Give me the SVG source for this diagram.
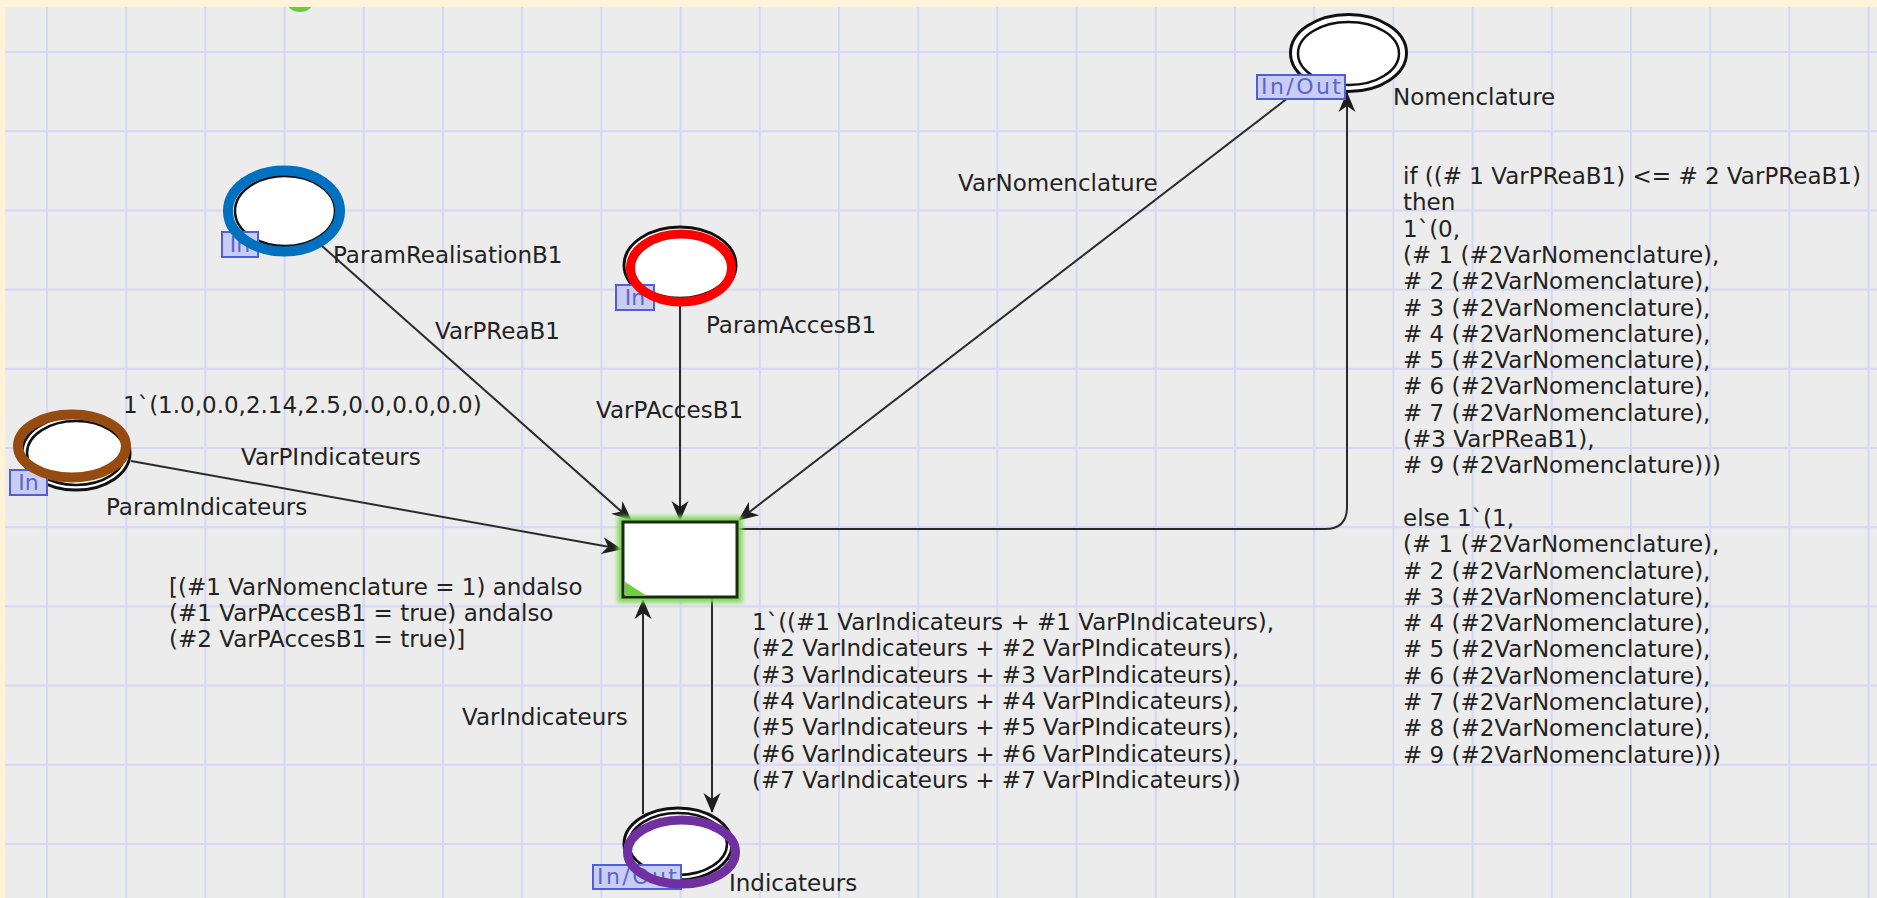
<svg xmlns="http://www.w3.org/2000/svg" width="1877" height="898" viewBox="0 0 1877 898">
  <style>
    .lbl { font-family: "DejaVu Sans", "Liberation Sans", sans-serif; font-size: 23px; fill: #222; }
    .arc { fill: none; stroke: #2b2b2b; stroke-width: 2; marker-end: url(#arr); }
    .pl-out { fill: #fff; stroke: #111; stroke-width: 3; }
    .pl-in { fill: #fff; stroke: #111; stroke-width: 2.5; }
    .tag { fill: #C9CDF3; stroke: #4F5FD9; stroke-width: 2; }
    .tagtxt { font-family: "DejaVu Sans", "Liberation Sans", sans-serif; font-size: 22px; fill: #5A66CC; text-anchor: middle; }
    .ring { fill: none; }
  </style>
  <defs>
    <pattern id="grid" x="46" y="51" width="79.2" height="79.2" patternUnits="userSpaceOnUse">
      <path d="M1,0 V79.2 M0,1 H79.2" stroke="#D6D6F7" stroke-width="2"/>
    </pattern>
    <marker id="arr" viewBox="-21 -10 23 20" refX="0" refY="0" markerWidth="23" markerHeight="20" markerUnits="userSpaceOnUse" orient="auto">
      <path d="M1,0 L-19,-8.5 L-13,0 L-19,8.5 Z" fill="#1e1e1e"/>
    </marker>
    <filter id="glow" x="-20%" y="-20%" width="140%" height="140%">
      <feGaussianBlur stdDeviation="2.2"/>
    </filter>
  </defs>

  <!-- canvas and grid -->
  <rect x="0" y="0" width="1877" height="898" fill="#ECECEC"/>
  <rect x="0" y="0" width="1877" height="898" fill="url(#grid)"/>
  <ellipse cx="300" cy="0" rx="14" ry="12" fill="#6DC93F"/>
  <rect x="0" y="0" width="1877" height="7" fill="#FFF4DA"/>
  <rect x="0" y="0" width="5" height="898" fill="#FFF4DA"/>

  <!-- arcs -->
  <g id="connectors">
    <path class="arc" d="M322,246 L631,520"/>
    <path class="arc" d="M680,306 L680,520"/>
    <path class="arc" d="M1306,84 L739,520"/>
    <path class="arc" d="M737,529 H1325 Q1347,529 1347,507 V93"/>
    <path class="arc" d="M131,461 L621,549"/>
    <path class="arc" d="M643,814 V600"/>
    <path class="arc" d="M712,597 V812"/>
    <text class="lbl" x="435" y="339">VarPReaB1</text>
    <text class="lbl" x="596" y="418">VarPAccesB1</text>
    <text class="lbl" x="958" y="191">VarNomenclature</text>
    <text class="lbl" x="241" y="465">VarPIndicateurs</text>
    <text class="lbl" x="462" y="725">VarIndicateurs</text>
    <text class="lbl" x="752">
      <tspan x="752" y="630">1`((#1 VarIndicateurs + #1 VarPIndicateurs),</tspan>
      <tspan x="752" y="656.3">(#2 VarIndicateurs + #2 VarPIndicateurs),</tspan>
      <tspan x="752" y="682.6">(#3 VarIndicateurs + #3 VarPIndicateurs),</tspan>
      <tspan x="752" y="708.9">(#4 VarIndicateurs + #4 VarPIndicateurs),</tspan>
      <tspan x="752" y="735.2">(#5 VarIndicateurs + #5 VarPIndicateurs),</tspan>
      <tspan x="752" y="761.5">(#6 VarIndicateurs + #6 VarPIndicateurs),</tspan>
      <tspan x="752" y="787.8">(#7 VarIndicateurs + #7 VarPIndicateurs))</tspan>
    </text>
    <text class="lbl" x="1403">
      <tspan x="1403" y="184">if ((# 1 VarPReaB1) &lt;= # 2 VarPReaB1)</tspan>
      <tspan x="1403" y="210.3">then</tspan>
      <tspan x="1403" y="236.6">1`(0,</tspan>
      <tspan x="1403" y="262.9">(# 1 (#2VarNomenclature),</tspan>
      <tspan x="1403" y="289.2"># 2 (#2VarNomenclature),</tspan>
      <tspan x="1403" y="315.5"># 3 (#2VarNomenclature),</tspan>
      <tspan x="1403" y="341.8"># 4 (#2VarNomenclature),</tspan>
      <tspan x="1403" y="368.1"># 5 (#2VarNomenclature),</tspan>
      <tspan x="1403" y="394.4"># 6 (#2VarNomenclature),</tspan>
      <tspan x="1403" y="420.7"># 7 (#2VarNomenclature),</tspan>
      <tspan x="1403" y="447">(#3 VarPReaB1),</tspan>
      <tspan x="1403" y="473.3"># 9 (#2VarNomenclature)))</tspan>
      <tspan x="1403" y="525.9">else 1`(1,</tspan>
      <tspan x="1403" y="552.2">(# 1 (#2VarNomenclature),</tspan>
      <tspan x="1403" y="578.5"># 2 (#2VarNomenclature),</tspan>
      <tspan x="1403" y="604.8"># 3 (#2VarNomenclature),</tspan>
      <tspan x="1403" y="631.1"># 4 (#2VarNomenclature),</tspan>
      <tspan x="1403" y="657.4"># 5 (#2VarNomenclature),</tspan>
      <tspan x="1403" y="683.7"># 6 (#2VarNomenclature),</tspan>
      <tspan x="1403" y="710"># 7 (#2VarNomenclature),</tspan>
      <tspan x="1403" y="736.3"># 8 (#2VarNomenclature),</tspan>
      <tspan x="1403" y="762.6"># 9 (#2VarNomenclature)))</tspan>
    </text>
  </g>

  <!-- transition -->
  <g id="transition">
    <rect x="623" y="522" width="114" height="75" fill="none" stroke="#7ED957" stroke-width="11" filter="url(#glow)"/>
    <rect x="623" y="522" width="114" height="75" fill="#fff" stroke="#1d2a14" stroke-width="3"/>
    <path d="M625,582 L625,596 L647,596 Z" fill="#6CD13A"/>
    <text class="lbl" x="169">
      <tspan x="169" y="595">[(#1 VarNomenclature = 1) andalso</tspan>
      <tspan x="169" y="621">(#1 VarPAccesB1 = true) andalso</tspan>
      <tspan x="169" y="647">(#2 VarPAccesB1 = true)]</tspan>
    </text>
  </g>

  <!-- places -->
  <g id="place-ParamRealisationB1">
    <ellipse class="pl-out" cx="285" cy="211" rx="55" ry="40"/>
    <ellipse class="pl-in" cx="285" cy="211" rx="50" ry="35"/>
    <rect class="tag" x="222" y="232" width="36" height="25"/>
    <text class="tagtxt" x="240" y="252">In</text>
    <ellipse class="ring" cx="284" cy="211" rx="56" ry="40.5" stroke="#0070C0" stroke-width="10"/>
    <text class="lbl" x="333" y="263">ParamRealisationB1</text>
  </g>

  <g id="place-ParamAccesB1">
    <ellipse class="pl-out" cx="680" cy="265" rx="56" ry="38"/>
    <ellipse class="pl-in" cx="680" cy="265" rx="51" ry="33"/>
    <rect class="tag" x="616" y="285" width="38" height="25"/>
    <text class="tagtxt" x="635" y="305">In</text>
    <ellipse class="ring" cx="681" cy="268" rx="50.5" ry="34" stroke="#FF0000" stroke-width="9"/>
    <text class="lbl" x="706" y="333">ParamAccesB1</text>
  </g>

  <g id="place-ParamIndicateurs">
    <ellipse class="pl-out" cx="76" cy="453" rx="54" ry="37"/>
    <ellipse class="pl-in" cx="76" cy="453" rx="49" ry="32"/>
    <rect class="tag" x="10" y="470" width="37" height="25"/>
    <text class="tagtxt" x="28.5" y="490">In</text>
    <ellipse class="ring" cx="72" cy="446" rx="54" ry="31.5" stroke="#964B10" stroke-width="10"/>
    <text class="lbl" x="106" y="515">ParamIndicateurs</text>
    <text class="lbl" x="123" y="413">1`(1.0,0.0,2.14,2.5,0.0,0.0,0.0)</text>
  </g>

  <g id="place-Nomenclature">
    <ellipse class="pl-out" cx="1348.5" cy="53" rx="58" ry="38.5"/>
    <ellipse class="pl-in" cx="1348.5" cy="53.5" rx="50.5" ry="31.5"/>
    <rect class="tag" x="1257" y="75" width="88" height="24"/>
    <text class="tagtxt" x="1301" y="94" textLength="80">In/Out</text>
    <text class="lbl" x="1393" y="105">Nomenclature</text>
  </g>

  <g id="place-Indicateurs">
    <ellipse class="pl-out" cx="678" cy="844" rx="54" ry="36"/>
    <ellipse class="pl-in" cx="678" cy="844" rx="49" ry="31"/>
    <rect class="tag" x="593" y="865" width="88" height="24"/>
    <text class="tagtxt" x="637" y="884" textLength="80">In/Out</text>
    <ellipse class="ring" cx="681.5" cy="852" rx="54" ry="32" stroke="#7030A0" stroke-width="9"/>
    <text class="lbl" x="729" y="891">Indicateurs</text>
  </g>
</svg>
